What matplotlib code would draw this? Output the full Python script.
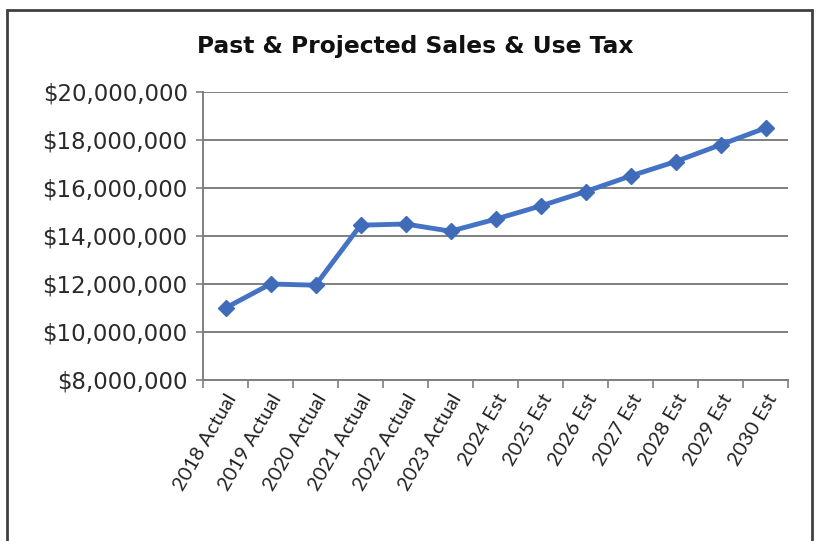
import matplotlib
matplotlib.use("Agg")
import matplotlib.pyplot as plt
from matplotlib.patches import Rectangle
from matplotlib.ticker import FuncFormatter, FixedLocator
import numpy as np

years = ["2018 Actual", "2019 Actual", "2020 Actual", "2021 Actual", "2022 Actual",
         "2023 Actual", "2024 Est", "2025 Est", "2026 Est", "2027 Est", "2028 Est",
         "2029 Est", "2030 Est"]
sales_tax = [11.0e6, 12.0e6, 11.95e6, 14.45e6, 14.5e6, 14.2e6, 14.7e6, 15.25e6,
             15.85e6, 16.5e6, 17.1e6, 17.8e6, 18.5e6]
y_ticks = [8e6, 10e6, 12e6, 14e6, 16e6, 18e6, 20e6]

plt.rcParams['font.family'] = ['Lato', 'DejaVu Sans']

fig = plt.figure(figsize=(8.17, 5.41), dpi=100)
fig.patch.set_facecolor("white")

# chart frame
fig.patches.append(Rectangle((7 / 817, -0.05), 805 / 817, 1 - 10 / 541 + 0.05,
                             transform=fig.transFigure, fill=False,
                             edgecolor="#404040", linewidth=2.0))

ax = fig.add_axes([203 / 817, 1 - 380 / 541, 585 / 817, 288 / 541])
x = np.arange(len(years))
ax.plot(x, sales_tax, color="#4472C4", linewidth=3.5, marker="D", markersize=8,
        markerfacecolor="#3F6BB8", markeredgecolor="#3F6BB8", zorder=3)

ax.set_xlim(-0.5, len(years) - 0.5)
ax.set_ylim(y_ticks[0], y_ticks[-1])
ax.set_yticks(y_ticks)
ax.yaxis.set_major_formatter(FuncFormatter(lambda v, p: f"${v:,.0f}"))
ax.grid(axis="y", color="#7f7f7f", linewidth=1.4)
ax.set_axisbelow(True)

ax.set_xticks(x)
ax.set_xticklabels(years, rotation=60, ha="right", rotation_mode="anchor",
                   fontsize=14.5, color="#222222")
ax.xaxis.set_minor_locator(FixedLocator(np.arange(-0.5, len(years), 1.0)))
ax.tick_params(axis="x", which="major", length=0, pad=8)
ax.tick_params(axis="x", which="minor", length=6, width=1.2, color="#7f7f7f", direction="out")
ax.tick_params(axis="y", length=5, width=1.2, color="#7f7f7f", pad=6)
for lbl in ax.get_yticklabels():
    lbl.set_fontfamily("DejaVu Sans")
    lbl.set_fontsize(16.5)
    lbl.set_color("#2a2a2a")

for s in ["top", "right"]:
    ax.spines[s].set_visible(False)
for s in ["left", "bottom"]:
    ax.spines[s].set_color("#7f7f7f")
    ax.spines[s].set_linewidth(1.4)

fig.text(415 / 817, 1 - 47 / 541, "Past & Projected Sales & Use Tax", ha="center",
         va="center", fontsize=16.8, fontweight="bold", color="#111111",
         family="DejaVu Sans")

fig.savefig("out.png", dpi=100)
